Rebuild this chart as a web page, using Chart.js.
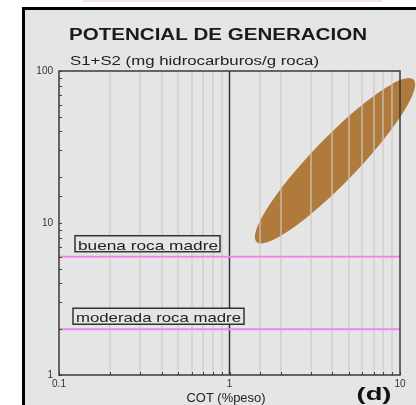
<!DOCTYPE html>
<html>
<head>
<meta charset="utf-8">
<script src="https://cdn.jsdelivr.net/npm/chart.js@4.4.1/dist/chart.umd.min.js"></script>
<style>
  html, body { margin: 0; padding: 0; background: #ffffff; }
  canvas { display: block; }
</style>
</head>
<body>
<canvas id="potencial" width="416" height="405"></canvas>
<script>
// --- Datos del gráfico ---
const cotRange = [0.1, 10];          // COT (%peso), escala log
const s1s2Range = [1, 100];          // S1+S2 (mg HC/g roca), escala log
const thresholdValues = [6, 2];
const thresholdLabels = ["buena roca madre", "moderada roca madre"];
const cotDivider = 1;

// zona de las muestras: extremos del eje mayor (COT, S1+S2)
const ellipseTips = [
  { x: 1.44, y: 7.5 },
  { x: 12.0, y: 88 },
];
const ellipseAspect = 0.2;

const FONT = "'Liberation Sans', Arial, sans-serif";
const BG = "#e5e5e5";

const isDecade = (v) => Math.abs(Math.log10(v) - Math.round(Math.log10(v))) < 1e-6;

// texto estirado en horizontal hasta un ancho dado
function drawFitText(ctx, text, x, y, width, font, align) {
  ctx.save();
  ctx.font = font;
  ctx.textBaseline = "alphabetic";
  ctx.textAlign = "left";
  const w = ctx.measureText(text).width;
  const k = width / w;
  let left = x;
  if (align === "center") left = x - width / 2;
  ctx.translate(left, y);
  ctx.scale(k, 1);
  ctx.fillText(text, 0, 0);
  ctx.restore();
}

// --- Fondo, marco y zona de muestras (debajo de la rejilla) ---
const backdrop = {
  id: "backdrop",
  beforeDraw(chart) {
    const { ctx, scales } = chart;
    ctx.save();
    ctx.fillStyle = "#ffffff";
    ctx.fillRect(0, 0, chart.width, chart.height);
    ctx.fillStyle = "#f7e2e2";
    ctx.fillRect(83, 0, 299, 2);
    ctx.fillStyle = BG;
    ctx.fillRect(25, 10, chart.width - 25, chart.height - 10);
    ctx.fillStyle = "#000000";
    ctx.fillRect(22, 7, 3, chart.height - 7);
    ctx.fillRect(22, 7, chart.width - 22, 3);

    const p = ellipseTips.map((t) => ({
      x: scales.x.getPixelForValue(t.x),
      y: scales.y.getPixelForValue(t.y),
    }));
    const cx = (p[0].x + p[1].x) / 2;
    const cy = (p[0].y + p[1].y) / 2;
    const a = Math.hypot(p[1].x - p[0].x, p[1].y - p[0].y) / 2;
    const ang = Math.atan2(p[1].y - p[0].y, p[1].x - p[0].x);
    ctx.fillStyle = "#b07a3c";
    ctx.beginPath();
    ctx.ellipse(cx, cy, a, a * ellipseAspect, ang, 0, Math.PI * 2);
    ctx.fill();
    ctx.restore();
  },
};

// --- Borde, marcas menores y etiquetas de umbral ---
const overlay = {
  id: "overlay",
  afterDatasetsDraw(chart) {
    const { ctx, chartArea: area, scales } = chart;
    ctx.save();

    // marcas menores hacia dentro
    ctx.strokeStyle = "#444";
    ctx.lineWidth = 1;
    scales.y.ticks.forEach((t) => {
      const y = Math.round(scales.y.getPixelForValue(t.value)) + 0.5;
      ctx.beginPath();
      ctx.moveTo(area.left, y);
      ctx.lineTo(area.left + 3, y);
      ctx.stroke();
    });
    scales.x.ticks.forEach((t) => {
      const x = Math.round(scales.x.getPixelForValue(t.value)) + 0.5;
      ctx.beginPath();
      ctx.moveTo(x, area.bottom);
      ctx.lineTo(x, area.bottom - 3);
      ctx.stroke();
    });

    ctx.strokeStyle = "#3a3a3a";
    ctx.lineWidth = 1.5;
    ctx.strokeRect(area.left, area.top, area.right - area.left, area.bottom - area.top);

    // cajas de texto sobre las líneas de umbral
    const boxes = [
      { left: area.left + 16, width: 145, textW: 140 },
      { left: area.left + 14, width: 171, textW: 165 },
    ];
    thresholdValues.forEach((v, i) => {
      const yLine = scales.y.getPixelForValue(v);
      const b = boxes[i];
      const bottom = yLine - 5;
      const top = bottom - 16;
      ctx.fillStyle = BG;
      ctx.fillRect(b.left, top, b.width, 16);
      ctx.strokeStyle = "#333";
      ctx.lineWidth = 1.5;
      ctx.strokeRect(b.left, top, b.width, 16);
      ctx.fillStyle = "#222";
      drawFitText(ctx, thresholdLabels[i], b.left + 3, bottom - 2, b.textW, "13px " + FONT, "left");
    });
    ctx.restore();
  },
  afterDraw(chart) {
    const { ctx } = chart;
    ctx.save();
    ctx.fillStyle = "#1a1a1a";
    drawFitText(ctx, "POTENCIAL DE GENERACION", 69, 40, 298, "bold 16px " + FONT, "left");
    ctx.fillStyle = "#222";
    drawFitText(ctx, "S1+S2 (mg hidrocarburos/g roca)", 70, 65, 249, "12.5px " + FONT, "left");
    drawFitText(ctx, "COT (%peso)", 226, 402, 79, "13px " + FONT, "center");
    ctx.fillStyle = "#111";
    drawFitText(ctx, "(d)", 374, 400, 35, "bold 18px " + FONT, "center");
    ctx.restore();
  },
};

const lineDatasets = thresholdValues.map((v, i) => ({
  label: thresholdLabels[i],
  data: [
    { x: cotRange[0], y: v },
    { x: cotRange[1], y: v },
  ],
  borderColor: "#ee86ee",
  borderWidth: 2,
  pointRadius: 0,
  showLine: true,
}));

lineDatasets.push({
  label: "COT = 1",
  data: [
    { x: cotDivider, y: s1s2Range[0] },
    { x: cotDivider, y: s1s2Range[1] },
  ],
  borderColor: "#333333",
  borderWidth: 1.5,
  pointRadius: 0,
  showLine: true,
});

new Chart(document.getElementById("potencial").getContext("2d"), {
  type: "scatter",
  data: { datasets: lineDatasets },
  plugins: [backdrop, overlay],
  options: {
    responsive: false,
    animation: false,
    events: [],
    layout: { padding: { left: 29, right: 16, top: 71, bottom: 8 } },
    plugins: {
      legend: { display: false },
      tooltip: { enabled: false },
    },
    scales: {
      x: {
        type: "logarithmic",
        min: cotRange[0],
        max: cotRange[1],
        afterFit: (s) => { s.height = 22; },
        border: { display: false },
        grid: {
          drawTicks: false,
          lineWidth: 2,
          color: (c) => (c.tick && isDecade(c.tick.value) ? "rgba(0,0,0,0)" : "rgba(205,200,195,0.6)"),
        },
        ticks: {
          autoSkip: false,
          maxRotation: 0,
          padding: 3,
          color: "#333",
          font: { family: FONT, size: 10 },
          callback: (v) => (isDecade(v) ? String(Number(v.toPrecision(3))) : ""),
        },
      },
      y: {
        type: "logarithmic",
        min: s1s2Range[0],
        max: s1s2Range[1],
        afterFit: (s) => { s.width = 30; },
        border: { display: false },
        grid: { display: false, drawTicks: false },
        ticks: {
          autoSkip: false,
          padding: 6,
          color: "#333",
          font: { family: FONT, size: 10 },
          callback: (v) => (isDecade(v) ? String(Math.round(v)) : ""),
        },
      },
    },
  },
});
</script>
</body>
</html>
